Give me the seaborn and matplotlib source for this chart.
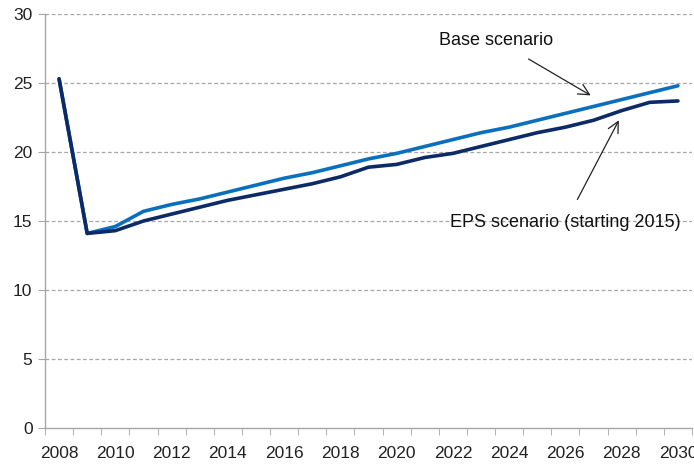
import numpy as np
import pandas as pd
import matplotlib.pyplot as plt
import seaborn as sns

# %%
years = list(range(2008, 2031))
base = [25.3, 14.1, 14.6, 15.7, 16.2, 16.6, 17.1, 17.6, 18.1, 18.5, 19.0, 19.5,
        19.9, 20.4, 20.9, 21.4, 21.8, 22.3, 22.8, 23.3, 23.8, 24.3, 24.8]
eps = [25.3, 14.1, 14.3, 15.0, 15.5, 16.0, 16.5, 16.9, 17.3, 17.7, 18.2, 18.9,
       19.1, 19.6, 19.9, 20.4, 20.9, 21.4, 21.8, 22.3, 23.0, 23.6, 23.7]
year_labels = [str(y) for y in range(2008, 2031, 2)]

df = pd.DataFrame({'year': years + years,
                   'value': base + eps,
                   'scenario': ['Base'] * len(years) + ['EPS'] * len(years)})

# %%
sns.set_style("white")
plt.rcParams['font.family'] = ['Liberation Sans', 'DejaVu Sans']

fig = plt.figure(figsize=(6.94, 4.70), dpi=100)
ax = fig.add_axes([45 / 694, 1 - 428 / 470, 647 / 694, 414 / 470])

# gridlines first so lines sit on top
for yv in range(5, 31, 5):
    ax.axhline(yv, color='#a6a6a6', lw=0.9, ls=(0, (3, 2)), zorder=0)

sns.lineplot(data=df, x='year', y='value', hue='scenario',
             palette={'Base': '#0a6fbd', 'EPS': '#0b2a66'},
             hue_order=['Base', 'EPS'], linewidth=2.6, legend=False, ax=ax,
             zorder=3)
# EPS on top
ax.lines[-1].set_zorder(4)

ax.set_xlim(2007.5, 2030.5)
ax.set_ylim(0, 30)
ax.set_xlabel('')
ax.set_ylabel('')

ax.set_xticks(range(2008, 2031, 2))
ax.set_xticklabels(year_labels)
ax.set_xticks(np.arange(2007.5, 2031, 1), minor=True)
ax.tick_params(axis='x', which='major', length=0, pad=13, labelsize=12.5, labelcolor='#222222')
ax.tick_params(axis='x', which='minor', length=5, color='#a6a6a6', direction='out', bottom=True)
ax.set_yticks(range(0, 31, 5))
ax.tick_params(axis='y', length=5, color='#a6a6a6', direction='out', left=True,
               labelsize=12.5, labelcolor='#222222', pad=4)

for s in ['top', 'right']:
    ax.spines[s].set_visible(False)
for s in ['left', 'bottom']:
    ax.spines[s].set_color('#a6a6a6')
    ax.spines[s].set_linewidth(1.0)

ax.annotate('Base scenario', xy=(2026.9, 24.1), xytext=(2023.55, 28.1),
            ha='center', va='center', fontsize=13, color='#111111',
            arrowprops=dict(arrowstyle='->,head_length=0.6,head_width=0.3',
                            color='#222222', lw=0.9, shrinkA=10, shrinkB=0))
ax.annotate('EPS scenario (starting 2015)', xy=(2027.9, 22.3), xytext=(2026.0, 14.9),
            ha='center', va='center', fontsize=13, color='#111111',
            arrowprops=dict(arrowstyle='->,head_length=0.6,head_width=0.3',
                            color='#222222', lw=0.9, shrinkA=9, shrinkB=0))

plt.savefig('out.png', dpi=100)
